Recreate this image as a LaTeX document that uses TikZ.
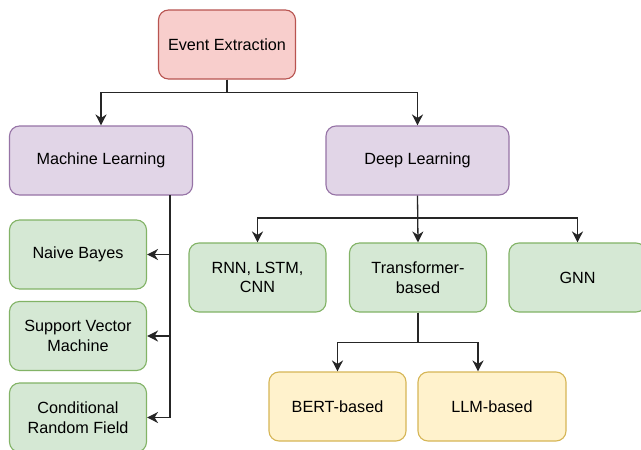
\documentclass[tikz,border=0pt]{standalone}
\usepackage{fontspec}
\setmainfont{Liberation Sans}
\usetikzlibrary{arrows.meta}
\definecolor{redF}{HTML}{F8CECC}\definecolor{redD}{HTML}{B85450}
\definecolor{purF}{HTML}{E1D5E7}\definecolor{purD}{HTML}{9673A6}
\definecolor{grnF}{HTML}{D5E8D4}\definecolor{grnD}{HTML}{82B366}
\definecolor{yelF}{HTML}{FFF2CC}\definecolor{yelD}{HTML}{D6B656}
\begin{document}
\begin{tikzpicture}[x=1pt,y=-1pt,
  font=\fontsize{16.2}{19.5}\selectfont,
  box/.style={draw, rounded corners=10pt, line width=1.1pt, align=center, inner sep=0pt, minimum height=69pt},
  redbox/.style={box, fill=redF, draw=redD},
  purbox/.style={box, fill=purF, draw=purD, minimum width=183pt},
  grnbox/.style={box, fill=grnF, draw=grnD, minimum width=137pt},
  yelbox/.style={box, fill=yelF, draw=yelD},
  conn/.style={line width=1.3pt, draw=black!85, -{Stealth[length=11pt,width=11pt,inset=3.5pt]}},
  line/.style={line width=1.3pt, draw=black!85}]
\clip (0,0) rectangle (641,450);
\fill[white] (0,0) rectangle (641,450);
\node[redbox, minimum width=137pt] (ee) at (227,44.5) {Event Extraction};
\node[purbox] (ml) at (101,160.5) {Machine Learning};
\node[purbox] (dl) at (417.5,160.5) {Deep Learning};
\node[grnbox] (nb) at (78,254.5) {Naive Bayes};
\node[grnbox] (svm) at (78,336) {Support Vector\\Machine};
\node[grnbox] (crf) at (78,417.5) {Conditional\\Random Field};
\node[grnbox] (rnn) at (257.5,277.5) {RNN, LSTM,\\CNN};
\node[grnbox] (tr) at (418,277.5) {Transformer-\\based};
\node[grnbox] (gnn) at (577.5,277.5) {GNN};
\node[yelbox, minimum width=137pt] (bert) at (337.5,406.5) {BERT-based};
\node[yelbox, minimum width=148pt] (llm) at (492,406.5) {LLM-based};
% top level
\draw[conn] (ee.south) -- ++(0,13) -| (ml.north);
\draw[conn] (ee.south) -- ++(0,13) -| (dl.north);
% machine learning bus
\coordinate (busTop) at (170,195);
\coordinate (busBot) at (170,418);
\draw[line] (busTop) -- (busBot);
\draw[conn] (nb.east -| busTop) -- (nb.east);
\draw[conn] (svm.east -| busTop) -- (svm.east);
\draw[conn] (crf.east -| busTop) -- (crf.east);
% deep learning
\draw[conn] (dl.south) -- ++(0,22.5) -| (rnn.north);
\draw[conn] (dl.south) -- (tr.north);
\draw[conn] (dl.south) -- ++(0,22.5) -| (gnn.north);
% transformer
\coordinate (llmx) at (478,0);
\draw[conn] (tr.south) -- ++(0,30) -| (bert.north);
\draw[conn] (tr.south) -- ++(0,30) -| (llm.north -| llmx);
\end{tikzpicture}
\end{document}
